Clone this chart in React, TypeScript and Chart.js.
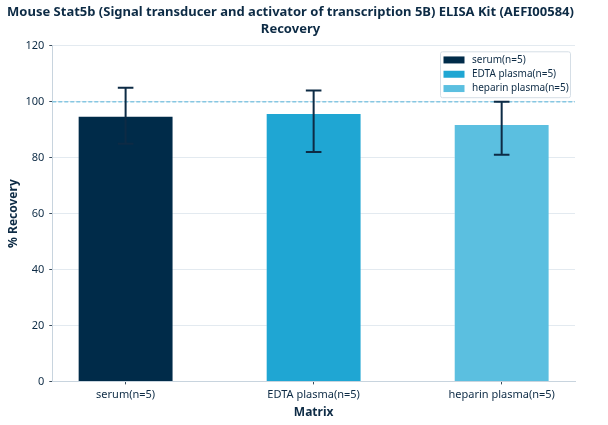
import React, { useEffect, useRef } from "react";
import { Chart, registerables } from "chart.js";

Chart.register(...registerables);

const categories = ["serum(n=5)", "EDTA plasma(n=5)", "heparin plasma(n=5)"];
const seriesLabels = ["serum(n=5)", "EDTA plasma(n=5)", "heparin plasma(n=5)"];
const recovery = [95, 96, 92];
const errLow = [85, 82, 81];
const errHigh = [105, 104, 100];
const barColors = ["#002b49", "#1fa6d3", "#5bbfe0"];
const referenceLine = 100;
const yTicks = [0, 20, 40, 60, 80, 100, 120];
const xRange = [-0.39, 2.39];

const textColor = "#0d2b45";
const fontFamily = "'Noto Sans', sans-serif";

const overlayPlugin = {
  id: "overlay",
  beforeDatasetsDraw(chart: any) {
    const { ctx, chartArea, scales } = chart;
    const y = scales.y.getPixelForValue(referenceLine);
    ctx.save();
    ctx.strokeStyle = "#86c7e2";
    ctx.lineWidth = 1.3;
    ctx.setLineDash([4, 2]);
    ctx.beginPath();
    ctx.moveTo(chartArea.left, y);
    ctx.lineTo(chartArea.right, y);
    ctx.stroke();
    ctx.restore();
  },
  afterDatasetsDraw(chart: any) {
    const { ctx, scales } = chart;
    ctx.save();
    ctx.strokeStyle = textColor;
    ctx.lineWidth = 2;
    ctx.setLineDash([]);
    categories.forEach((_, i) => {
      const x = scales.x.getPixelForValue(i);
      const yl = scales.y.getPixelForValue(errLow[i]);
      const yh = scales.y.getPixelForValue(errHigh[i]);
      const cap = 7.8;
      ctx.beginPath();
      ctx.moveTo(x, yl);
      ctx.lineTo(x, yh);
      ctx.moveTo(x - cap, yh);
      ctx.lineTo(x + cap, yh);
      ctx.moveTo(x - cap, yl);
      ctx.lineTo(x + cap, yl);
      ctx.stroke();
    });
    ctx.restore();
  },
  afterDraw(chart: any) {
    const { ctx, chartArea } = chart;
    const boxW = 130;
    const rowH = 14.3;
    const pad = 1.5;
    const boxH = pad * 2 + rowH * seriesLabels.length;
    const x0 = chartArea.right - boxW - 5;
    const y0 = chartArea.top + 5.5;
    ctx.save();
    ctx.fillStyle = "rgba(255,255,255,0.9)";
    ctx.strokeStyle = "#d5dee6";
    ctx.lineWidth = 1;
    ctx.beginPath();
    if ((ctx as any).roundRect) {
      (ctx as any).roundRect(x0 + 0.5, y0 + 0.5, boxW, boxH, 2);
    } else {
      ctx.rect(x0 + 0.5, y0 + 0.5, boxW, boxH);
    }
    ctx.fill();
    ctx.stroke();
    ctx.font = `10px ${fontFamily}`;
    ctx.textBaseline = "middle";
    seriesLabels.forEach((lab, i) => {
      const cy = y0 + pad + rowH * i + rowH / 2;
      ctx.fillStyle = barColors[i];
      ctx.fillRect(x0 + 3.5, cy - 3.5, 21, 7);
      ctx.fillStyle = textColor;
      ctx.fillText(lab, x0 + 32, cy);
    });
    ctx.restore();
  },
};

export default function App() {
  const ref = useRef<HTMLCanvasElement | null>(null);
  useEffect(() => {
    document.body.style.margin = "0";
    const datasets = seriesLabels.map((lab, i) => ({
      label: lab,
      data: [{ x: i, y: recovery[i] }],
      backgroundColor: barColors[i],
      borderColor: "rgba(255,255,255,0.35)",
      borderWidth: 1,
      grouped: false,
      barPercentage: 0.51,
      categoryPercentage: 1,
    }));
    const chart = new Chart(ref.current as HTMLCanvasElement, {
      type: "bar",
      data: { datasets },
      plugins: [overlayPlugin],
      options: {
        animation: false,
        responsive: false,
        maintainAspectRatio: false,
        layout: { padding: { left: 6, right: 33, top: 0, bottom: 5 } },
        plugins: {
          legend: { display: false },
          tooltip: { enabled: false },
          title: {
            display: true,
            text: [
              "Mouse Stat5b (Signal transducer and activator of transcription 5B) ELISA Kit (AEFI00584)",
              "Recovery",
            ],
            color: textColor,
            font: { family: fontFamily, size: 13, weight: "bold", lineHeight: 1.3 },
            padding: { top: 4, bottom: 8 },
          },
        },
        scales: {
          x: {
            type: "linear",
            min: xRange[0],
            max: xRange[1],
            offset: false,
            afterBuildTicks: (axis: any) => {
              axis.ticks = categories.map((_, i) => ({ value: i }));
            },
            grid: {
              display: true,
              offset: false,
              drawOnChartArea: false,
              drawTicks: true,
              tickLength: 3,
              tickColor: "#3c4e5e",
              color: "#c8d4de",
            },
            border: { display: true, color: "#c8d4de" },
            ticks: {
              color: textColor,
              font: { family: fontFamily, size: 11 },
              padding: 4,
              autoSkip: false,
              maxRotation: 0,
              callback: (v: any) => categories[Math.round(Number(v))] ?? "",
            },
            title: {
              display: true,
              text: "Matrix",
              color: textColor,
              font: { family: fontFamily, size: 12, weight: "bold" },
              padding: { top: 0, bottom: 0 },
            },
          },
          y: {
            min: 0,
            max: 120,
            afterBuildTicks: (axis: any) => {
              axis.ticks = yTicks.map((v) => ({ value: v }));
            },
            grid: {
              color: "#e3eaf0",
              drawTicks: true,
              tickLength: 3,
              tickColor: "#3c4e5e",
            },
            border: { display: true, color: "#c8d4de" },
            ticks: { color: textColor, font: { family: fontFamily, size: 11 }, padding: 5 },
            title: {
              display: true,
              text: "% Recovery",
              color: textColor,
              font: { family: fontFamily, size: 12, weight: "bold" },
              padding: { top: 0, bottom: 0 },
            },
          },
        },
      },
    });
    return () => chart.destroy();
  }, []);
  return (
    <div style={{ width: 608, height: 425 }}>
      <canvas ref={ref} width={608} height={425} style={{ width: 608, height: 425 }} />
    </div>
  );
}
